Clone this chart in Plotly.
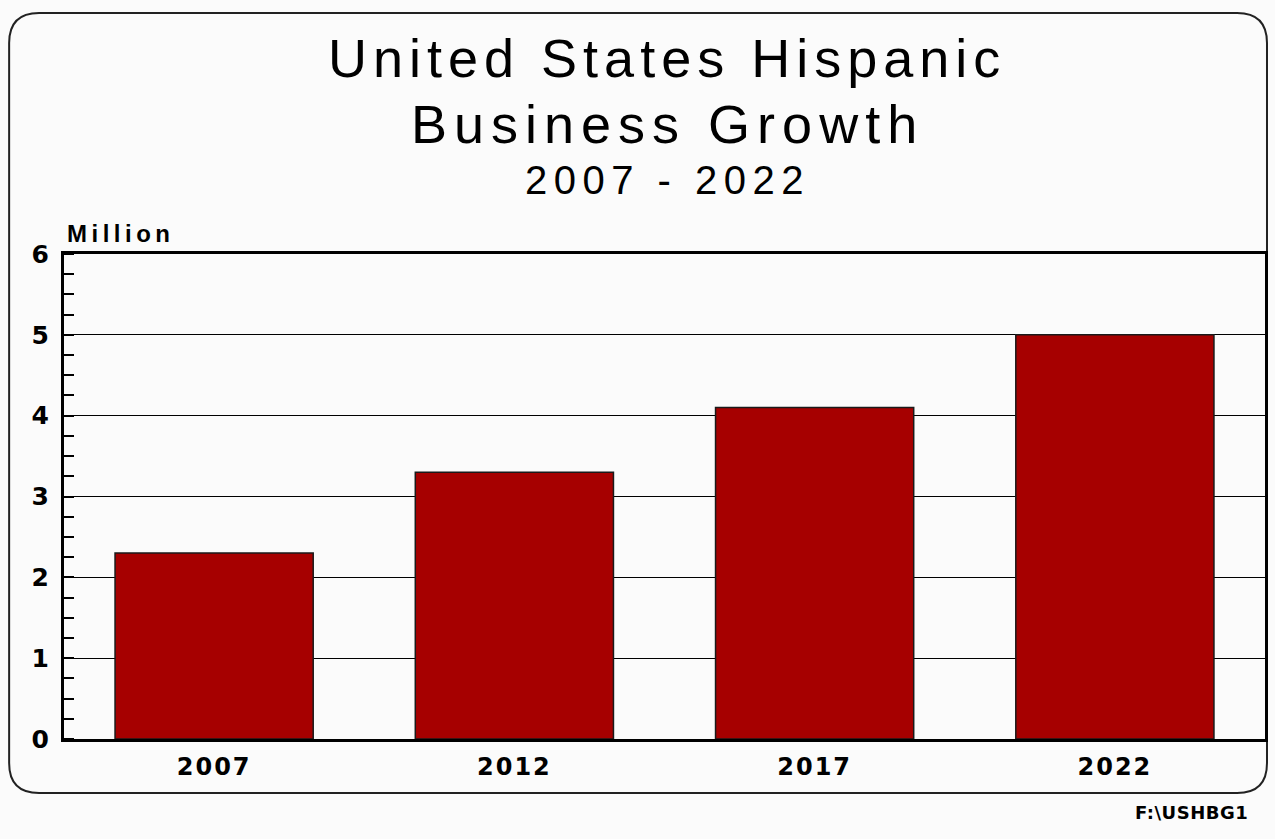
import plotly.graph_objects as go

# Hispanic-owned businesses in the United States (millions)
years = ["2007", "2012", "2017", "2022"]
businesses = [2.3, 3.3, 4.1, 5.0]
y_ticks = [0, 1, 2, 3, 4, 5, 6]

W, H = 1275, 839
L, R, T, B = 64, 1268, 254, 739  # plot area in pixels

def px_x(px):
    return (px - L) / (R - L)

def px_y(py):
    return (B - py) / (B - T)

def spaced(text, ls, bold=False):
    inner = f"<span style='letter-spacing:{ls}px'>{text}</span>"
    return f"<b>{inner}</b>" if bold else inner

fig = go.Figure()
fig.add_trace(go.Bar(
    x=years, y=businesses,
    marker=dict(color="#a60000", line=dict(color="#1a1a1a", width=1.5)),
    width=0.66,
))

font_main = "Liberation Sans, Arial, Helvetica, sans-serif"
font_tick = "DejaVu Sans, Verdana, sans-serif"

# rounded outer frame
x0, x1 = px_x(9), px_x(1270)
y0, y1 = px_y(793), px_y(13)
rx, ry = 30 / (R - L), 30 / (B - T)
path = (
    f"M {x0+rx},{y1} L {x1-rx},{y1} Q {x1},{y1} {x1},{y1-ry} "
    f"L {x1},{y0+ry} Q {x1},{y0} {x1-rx},{y0} "
    f"L {x0+rx},{y0} Q {x0},{y0} {x0},{y0+ry} "
    f"L {x0},{y1-ry} Q {x0},{y1} {x0+rx},{y1} Z"
)
fig.add_shape(type="path", path=path, xref="paper", yref="paper",
              line=dict(color="#222222", width=2), layer="below")

titles = [
    ("United States Hispanic", 58, 54, 6),
    ("Business Growth", 124, 54, 7),
    ("2007 - 2022", 180, 40, 6.5),
]
for text, ypx, size, ls in titles:
    fig.add_annotation(text=spaced(text, ls), x=px_x(669), y=px_y(ypx),
                       xref="paper", yref="paper", showarrow=False,
                       xanchor="center", yanchor="middle",
                       font=dict(family=font_main, size=size, color="black"))

fig.add_annotation(text=spaced("Million", 4.5, bold=True), x=px_x(65), y=px_y(234),
                   xref="paper", yref="paper", showarrow=False,
                   xanchor="left", yanchor="middle",
                   font=dict(family=font_main, size=24, color="black"))
fig.add_annotation(text=spaced("F:\\USHBG1", 0.5, bold=True), x=px_x(1253), y=px_y(812),
                   xref="paper", yref="paper", showarrow=False,
                   xanchor="right", yanchor="middle",
                   font=dict(family=font_tick, size=18, color="black"))

fig.update_layout(
    width=W, height=H,
    margin=dict(l=L, r=W - R, t=T, b=H - B),
    paper_bgcolor="#fbfbfb", plot_bgcolor="#fbfbfb",
    showlegend=False, bargap=0.34,
    font=dict(family=font_main, color="black"),
)
fig.update_xaxes(
    showline=True, linecolor="black", linewidth=3, mirror=True,
    ticks="", tickfont=dict(size=24, family=font_tick),
    tickvals=years, ticktext=[spaced(y, 2, bold=True) for y in years],
    showgrid=False, ticklabelstandoff=4,
)
fig.update_yaxes(
    range=[0, 6], tickvals=y_ticks, ticktext=[spaced(str(v), 0, bold=True) for v in y_ticks],
    showline=True, linecolor="black", linewidth=3, mirror=True,
    showgrid=True, gridcolor="black", gridwidth=1,
    ticks="", tickfont=dict(size=25, family=font_tick),
    minor=dict(ticks="inside", ticklen=10, tickwidth=2, tickcolor="black", dtick=0.25, showgrid=False),
    ticklabelstandoff=7, zeroline=False,
)

fig.write_html("out.html")
